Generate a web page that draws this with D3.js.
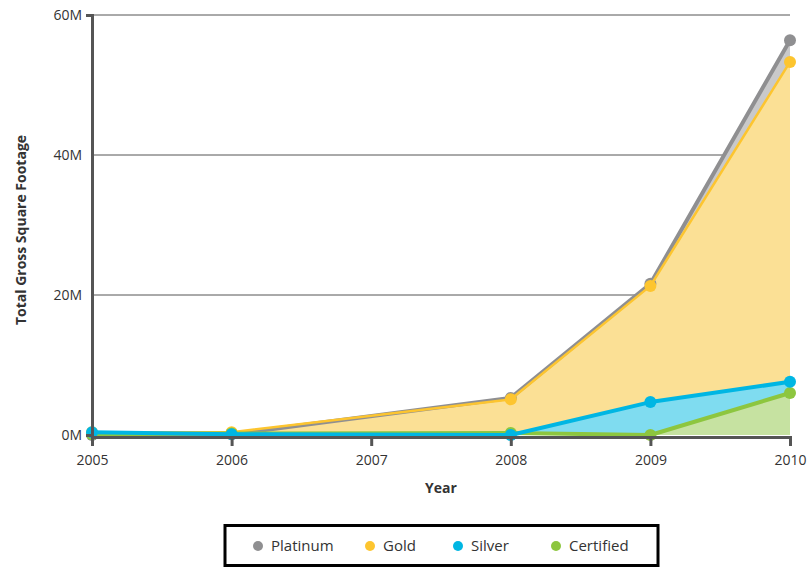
<!DOCTYPE html>
<html><head><meta charset="utf-8">
<script src="https://cdn.jsdelivr.net/npm/d3@7/dist/d3.min.js"></script>
<style>body{margin:0;background:#fff;font-family:"Open Sans",sans-serif}</style>
</head><body><svg id="c" width="809" height="567"></svg>
<script>
const years = [2005, 2006, 2008, 2009, 2010];
const seriesNames = ["Platinum", "Gold", "Silver", "Certified"];
const platinum = [0.0, 0.1, 5.3, 21.6, 56.4];
const gold = [0.4, 0.4, 5.1, 21.3, 53.3];
const silver = [0.4, 0.1, 0.0, 4.7, 7.6];
const certified = [0.1, 0.2, 0.3, 0.0, 6.0];
const yTicks = [0, 20, 40, 60];
const xTicks = [2005, 2006, 2007, 2008, 2009, 2010];

const styles = {
  Platinum: {line: "#8f8f91", area: "#c9c9ca", w: 4},
  Gold: {line: "#fdc52f", area: "#fbe095", w: 2.5},
  Silver: {line: "#00b6e3", area: "#7fdcf0", w: 4},
  Certified: {line: "#8dc63f", area: "#c6e2a1", w: 4}
};
const values = {Platinum: platinum, Gold: gold, Silver: silver, Certified: certified};
const lineOrder = ["Platinum", "Gold", "Certified", "Silver"];

const svg = d3.select("#c");
const x = d3.scaleLinear().domain([2005, 2010]).range([92, 790]);
const y = d3.scaleLinear().domain([0, 60]).range([435, 15]);

svg.append("g").selectAll("line").data(yTicks.filter(d => d > 0)).join("line")
  .attr("x1", 92).attr("x2", 790).attr("y1", d => y(d)).attr("y2", d => y(d))
  .attr("stroke", "#555").attr("stroke-width", 1);

const area = d3.area().x((d, i) => x(years[i])).y0(y(0)).y1(d => y(d));
const line = d3.line().x((d, i) => x(years[i])).y(d => y(d));

seriesNames.forEach(n => {
  svg.append("path").datum(values[n]).attr("d", area).attr("fill", styles[n].area);
});
lineOrder.forEach(n => {
  const g = svg.append("g");
  g.append("path").datum(values[n]).attr("d", line).attr("fill", "none")
    .attr("stroke", styles[n].line).attr("stroke-width", styles[n].w).attr("stroke-linejoin", "round");
  g.selectAll("circle").data(values[n]).join("circle")
    .attr("cx", (d, i) => x(years[i])).attr("cy", d => y(d)).attr("r", 6)
    .attr("fill", styles[n].line);
});

const yAxis = d3.axisLeft(y).tickValues(yTicks).tickFormat(d => d + "M").tickSize(6).tickPadding(4);
const yg = svg.append("g").attr("transform", "translate(92,0)").call(yAxis);
yg.select(".domain").attr("stroke", "#555").attr("stroke-width", 3);
yg.selectAll(".tick line").attr("stroke", "#555").attr("stroke-width", 3).attr("x2", d => d === 60 ? -6 : 0);
yg.selectAll(".tick text").attr("font-size", 14).attr("fill", "#333").attr("font-family", "Open Sans, sans-serif");

const xAxis = d3.axisBottom(x).tickValues(xTicks).tickFormat(d3.format("d")).tickSize(9).tickPadding(9);
const xg = svg.append("g").attr("transform", "translate(0,437)").call(xAxis);
xg.select(".domain").attr("stroke", "#555").attr("stroke-width", 3);
xg.selectAll(".tick line").attr("stroke", "#555").attr("stroke-width", 3);
xg.selectAll(".tick text").attr("font-size", 14).attr("fill", "#333").attr("font-family", "Open Sans, sans-serif");

svg.append("text").attr("x", 441).attr("y", 493).attr("text-anchor", "middle")
  .attr("font-size", 14).attr("font-weight", "bold").attr("fill", "#333").text("Year");
svg.append("text").attr("transform", "translate(26,230) rotate(-90)").attr("text-anchor", "middle")
  .attr("font-size", 14).attr("font-weight", "bold").attr("fill", "#333").text("Total Gross Square Footage");

const lg = svg.append("g");
lg.append("rect").attr("x", 225).attr("y", 525.5).attr("width", 433).attr("height", 40)
  .attr("fill", "#fff").attr("stroke", "#000").attr("stroke-width", 3);
const lx = [258, 370, 458, 556];
seriesNames.forEach((n, i) => {
  lg.append("circle").attr("cx", lx[i]).attr("cy", 546).attr("r", 5).attr("fill", styles[n].line);
  lg.append("text").attr("x", lx[i] + 13).attr("y", 551).attr("font-size", 15).attr("fill", "#333").text(n);
});
</script></body></html>
